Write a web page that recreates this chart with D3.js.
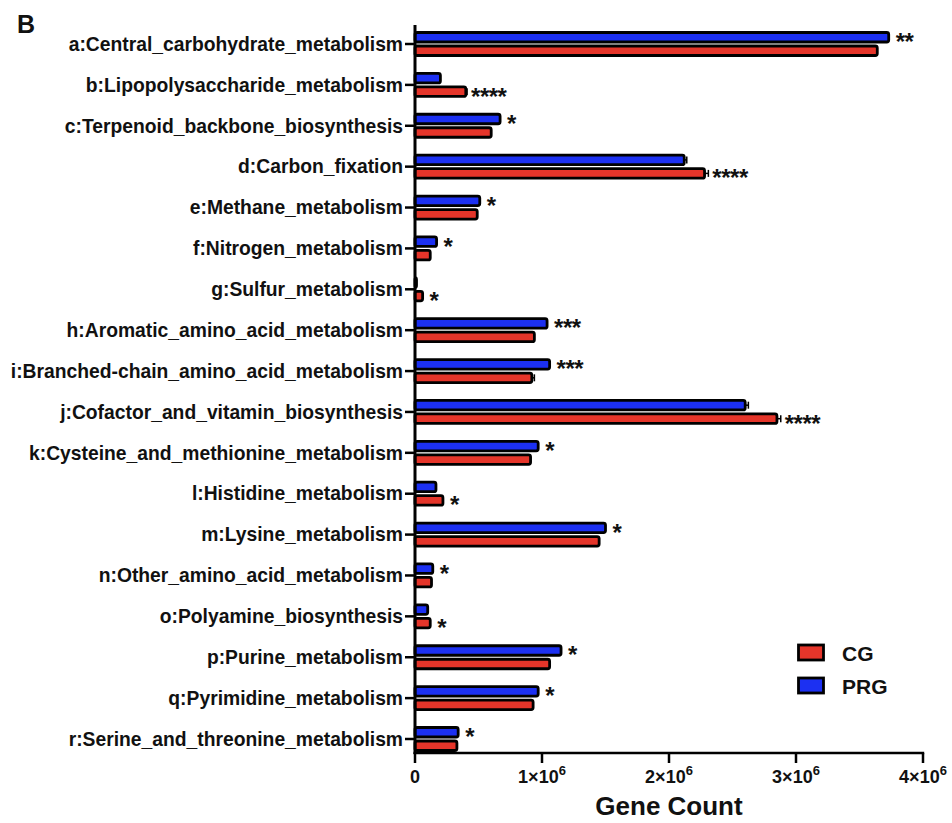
<!DOCTYPE html>
<html><head><meta charset="utf-8">
<script src="https://cdn.jsdelivr.net/npm/d3@7"></script>
<style>
html,body{margin:0;padding:0;background:#fff;}
svg{display:block;font-family:"Liberation Sans",Arial,Helvetica,sans-serif;font-weight:bold;}
</style></head>
<body>
<svg id="chart" width="952" height="823"></svg>
<script>
const categories = [
  "a:Central_carbohydrate_metabolism",
  "b:Lipopolysaccharide_metabolism",
  "c:Terpenoid_backbone_biosynthesis",
  "d:Carbon_fixation",
  "e:Methane_metabolism",
  "f:Nitrogen_metabolism",
  "g:Sulfur_metabolism",
  "h:Aromatic_amino_acid_metabolism",
  "i:Branched-chain_amino_acid_metabolism",
  "j:Cofactor_and_vitamin_biosynthesis",
  "k:Cysteine_and_methionine_metabolism",
  "l:Histidine_metabolism",
  "m:Lysine_metabolism",
  "n:Other_amino_acid_metabolism",
  "o:Polyamine_biosynthesis",
  "p:Purine_metabolism",
  "q:Pyrimidine_metabolism",
  "r:Serine_and_threonine_metabolism"
];
const prgValues = [3730000, 200000, 670000, 2120000, 510000, 170000, 10000, 1040000, 1060000, 2600000, 970000, 165000, 1500000, 140000, 100000, 1150000, 970000, 340000];
const cgValues  = [3640000, 400000, 600000, 2280000, 490000, 120000, 60000, 940000, 920000, 2850000, 910000, 220000, 1450000, 130000, 120000, 1060000, 930000, 330000];
const prgErr = [0, 0, 0, 20000, 0, 0, 0, 0, 0, 25000, 0, 0, 0, 0, 0, 0, 0, 0];
const cgErr  = [0, 10000, 0, 30000, 0, 0, 0, 0, 20000, 30000, 0, 0, 0, 0, 0, 0, 0, 0];
// significance labels and the series each sits beside
const sigText   = ["**", "****", "*", "****", "*", "*", "*", "***", "***", "****", "*", "*", "*", "*", "*", "*", "*", "*"];
const sigSeries = ["PRG","CG","PRG","CG","PRG","PRG","CG","PRG","PRG","CG","PRG","CG","PRG","PRG","CG","PRG","PRG","PRG"];
const xTicks = [0, 1000000, 2000000, 3000000, 4000000];
const xTickLabels = ["0", "1×10|6", "2×10|6", "3×10|6", "4×10|6"];
const seriesNames = ["CG", "PRG"];
const colors = {CG: "#E5352A", PRG: "#1C30F2"};

const svg = d3.select("#chart");
const x = d3.scaleLinear().domain([0, 4000000]).range([415, 923]);
const y = d3.scalePoint().domain(categories).range([44, 739]);

// panel letter
svg.append("text").attr("x", 17).attr("y", 33).attr("font-size", 25).attr("fill", "#111").text("B");

const barH = 9.5;
const g = svg.append("g");
categories.forEach((c, i) => {
  const cy = y(c);
  const rows = [
    {s: "PRG", v: prgValues[i], e: prgErr[i], top: cy - 11.5},
    {s: "CG", v: cgValues[i], e: cgErr[i], top: cy + 2}
  ];
  rows.forEach(r => {
    const w = Math.max(x(r.v) - x(0), 1.5);
    g.append("rect").attr("x", x(0)).attr("y", r.top).attr("width", w).attr("height", barH)
      .attr("rx", 2).attr("fill", colors[r.s]).attr("stroke", "#000").attr("stroke-width", 2.8);
    if (r.e > 0) {
      const ym = r.top + barH / 2;
      g.append("line").attr("x1", x(r.v)).attr("x2", x(r.v + r.e)).attr("y1", ym).attr("y2", ym)
        .attr("stroke", "#000").attr("stroke-width", 1.5);
      g.append("line").attr("x1", x(r.v + r.e)).attr("x2", x(r.v + r.e)).attr("y1", ym - 3.5).attr("y2", ym + 3.5)
        .attr("stroke", "#000").attr("stroke-width", 1.5);
    }
  });
  const useRow = sigSeries[i] === "PRG" ? rows[0] : rows[1];
  const ex = x(useRow.v + useRow.e) + (useRow.e > 0 ? 4 : 7);
  g.append("text").attr("x", ex).attr("y", useRow.top + barH / 2 + 13)
    .attr("font-size", 24).attr("letter-spacing", -0.5).attr("fill", "#111").text(sigText[i]);
});

// y axis
svg.append("line").attr("x1", x(0)).attr("x2", x(0)).attr("y1", 25).attr("y2", 754)
  .attr("stroke", "#000").attr("stroke-width", 3);
categories.forEach(c => {
  svg.append("line").attr("x1", 405).attr("x2", x(0)).attr("y1", y(c)).attr("y2", y(c))
    .attr("stroke", "#000").attr("stroke-width", 2.5);
  svg.append("text").attr("x", 403).attr("y", y(c)).attr("dy", "0.35em").attr("text-anchor", "end")
    .attr("font-size", 19.3).attr("fill", "#111").text(c);
});

// x axis
svg.append("line").attr("x1", x(0) - 1.5).attr("x2", x(4000000) + 1.2).attr("y1", 753).attr("y2", 753)
  .attr("stroke", "#000").attr("stroke-width", 2.6);
xTicks.forEach((t, i) => {
  svg.append("line").attr("x1", x(t)).attr("x2", x(t)).attr("y1", 753).attr("y2", 763)
    .attr("stroke", "#000").attr("stroke-width", 2.5);
  const parts = xTickLabels[i].split("|");
  const tx = svg.append("text").attr("x", x(t)).attr("y", 783).attr("text-anchor", "middle")
    .attr("font-size", 18).attr("fill", "#111");
  tx.append("tspan").text(parts[0]);
  if (parts[1]) tx.append("tspan").attr("dy", -8).attr("font-size", 13).text(parts[1]);
});
svg.append("text").attr("x", 669).attr("y", 815).attr("text-anchor", "middle")
  .attr("font-size", 26).attr("fill", "#111").text("Gene Count");

// legend
seriesNames.forEach((s, i) => {
  const ly = 645 + i * 33;
  svg.append("rect").attr("x", 798.5).attr("y", ly).attr("width", 25).attr("height", 15)
    .attr("fill", colors[s]).attr("stroke", "#000").attr("stroke-width", 2.8);
  svg.append("text").attr("x", 842).attr("y", ly + 8).attr("dy", "0.36em")
    .attr("font-size", 21).attr("fill", "#111").text(s);
});
</script>
</body></html>
